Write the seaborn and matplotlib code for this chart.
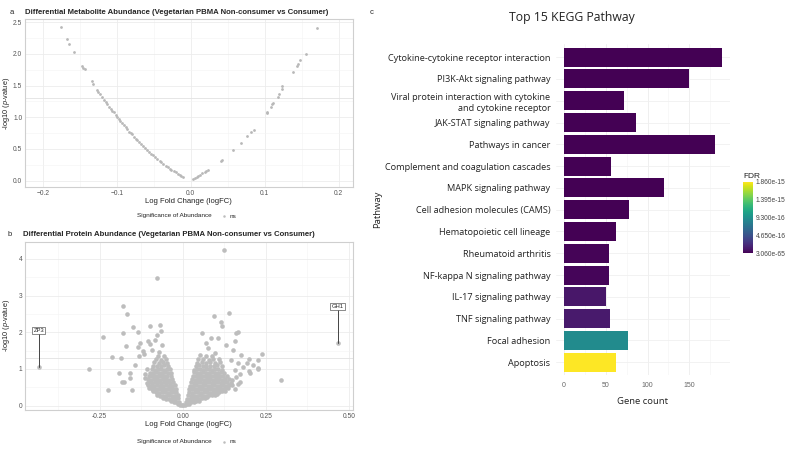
import numpy as np
import pandas as pd
import matplotlib
matplotlib.use("Agg")
import matplotlib.pyplot as plt
import matplotlib.colors as mcolors
from matplotlib.lines import Line2D
from matplotlib.ticker import MultipleLocator
import seaborn as sns

sns.set_theme(style="white")
plt.rcParams["font.family"] = ["Liberation Sans", "DejaVu Sans"]
plt.rcParams["mathtext.fontset"] = "custom"
plt.rcParams["mathtext.it"] = "Liberation Sans:italic"
plt.rcParams["mathtext.rm"] = "Liberation Sans"

# ── panel a: metabolites ─────────────────────────────────────────────────────
met_fc = [
    -0.176, -0.167, -0.164, -0.158, -0.147, -0.145, -0.143, -0.134, -0.132, -0.127, -0.125, -0.122,
    -0.120, -0.117, -0.115, -0.113, -0.111, -0.108, -0.106, -0.104, -0.101, -0.099, -0.097, -0.095,
    -0.093, -0.090, -0.088, -0.086, -0.083, -0.081, -0.079, -0.076, -0.074, -0.072, -0.070, -0.067,
    -0.065, -0.062, -0.059, -0.056, -0.053, -0.051, -0.048, -0.045, -0.042, -0.040, -0.037, -0.034,
    -0.031, -0.028, -0.026, -0.023, -0.020, -0.017, -0.015, -0.013, -0.011,
    0.003, 0.006, 0.008, 0.010, 0.013, 0.015, 0.019, 0.021, 0.024, 0.041, 0.043, 0.057, 0.068,
    0.0765, 0.082, 0.085, 0.1025, 0.103, 0.109, 0.110, 0.111, 0.118, 0.120, 0.124, 0.124, 0.138,
    0.144, 0.145, 0.148, 0.156, 0.171,
]
met_nlp = [
    2.42, 2.23, 2.16, 2.03, 1.81, 1.78, 1.76, 1.58, 1.53, 1.43, 1.40, 1.36,
    1.32, 1.27, 1.24, 1.21, 1.17, 1.135, 1.105, 1.08, 1.04, 1.01, 0.975, 0.945,
    0.915, 0.875, 0.845, 0.815, 0.775, 0.755, 0.73, 0.69, 0.66, 0.635, 0.61, 0.577,
    0.553, 0.52, 0.485, 0.45, 0.422, 0.398, 0.369, 0.34, 0.31, 0.29, 0.262, 0.238,
    0.213, 0.19, 0.175, 0.15, 0.131, 0.107, 0.092, 0.078, 0.063,
    0.02, 0.044, 0.058, 0.078, 0.097, 0.116, 0.136, 0.16, 0.175, 0.31, 0.33, 0.485, 0.597,
    0.70, 0.766, 0.805, 1.067, 1.086, 1.164, 1.203, 1.232, 1.32, 1.363, 1.445, 1.494, 1.707,
    1.814, 1.843, 1.911, 1.998, 2.406,
]

# ── panel b: proteins ────────────────────────────────────────────────────────
core_fc = [
    -0.014, -0.008, -0.003, 0.002, 0.007, 0.012, 0.018,
    -0.035, -0.027, -0.019, -0.011, 0.009, 0.017, 0.025, 0.033, 0.041, 0.048,
    -0.058, -0.049, -0.04, -0.031, -0.022, -0.014, 0.012, 0.021, 0.03, 0.039, 0.048, 0.057, 0.066, 0.074,
    -0.076, -0.067, -0.058, -0.049, -0.04, -0.031, -0.022, -0.015, 0.015, 0.024, 0.033, 0.042, 0.051,
    0.06, 0.069, 0.078, 0.087, 0.096, 0.104,
    -0.09, -0.081, -0.072, -0.063, -0.054, -0.045, -0.036, -0.027, -0.019, 0.018, 0.027, 0.036, 0.045,
    0.054, 0.063, 0.072, 0.081, 0.09, 0.099, 0.108, 0.117, 0.126,
    -0.1, -0.091, -0.082, -0.073, -0.064, -0.055, -0.046, -0.037, -0.028, -0.021, 0.02, 0.029, 0.038,
    0.047, 0.056, 0.065, 0.074, 0.083, 0.092, 0.101, 0.11, 0.119, 0.128, 0.137,
    -0.104, -0.095, -0.086, -0.077, -0.068, -0.059, -0.05, -0.041, -0.032, -0.024, 0.023, 0.032, 0.041,
    0.05, 0.059, 0.068, 0.077, 0.086, 0.095, 0.104, 0.113, 0.122, 0.131, 0.14, 0.149,
    -0.1, -0.091, -0.082, -0.073, -0.064, -0.055, -0.046, -0.037, -0.028, 0.026, 0.035, 0.044, 0.053,
    0.062, 0.071, 0.08, 0.089, 0.098, 0.107, 0.116, 0.125, 0.134, 0.145,
    -0.104, -0.095, -0.086, -0.077, -0.068, -0.059, -0.05, -0.041, -0.031, 0.028, 0.037, 0.046, 0.055,
    0.064, 0.073, 0.082, 0.091, 0.1, 0.109, 0.118, 0.127, 0.138,
    -0.1, -0.091, -0.082, -0.073, -0.064, -0.055, -0.046, -0.036, 0.031, 0.04, 0.049, 0.058, 0.067,
    0.076, 0.085, 0.094, 0.103, 0.112, 0.121, 0.132,
    -0.097, -0.088, -0.079, -0.07, -0.061, -0.052, -0.043, -0.035, 0.033, 0.042, 0.051, 0.06, 0.069,
    0.078, 0.087, 0.096, 0.105, 0.114, 0.125,
    -0.093, -0.084, -0.075, -0.066, -0.057, -0.048, -0.039, 0.035, 0.044, 0.053, 0.062, 0.071, 0.08,
    0.089, 0.098, 0.107, 0.118,
    -0.09, -0.078, -0.066, -0.057, -0.045, 0.04, 0.05, 0.062, 0.071, 0.083, 0.095, 0.104, 0.118,
    -0.085, -0.07, -0.059, -0.047, 0.043, 0.058, 0.069, 0.081, 0.097, 0.112,
    -0.08, -0.064, -0.05, 0.047, 0.062, 0.078, 0.09, 0.108,
    -0.073, -0.056, 0.052, 0.07, 0.088,
]
core_nlp = [
    0.04, 0.02, 0.01, 0.01, 0.02, 0.03, 0.05,
    0.12, 0.1, 0.09, 0.1, 0.09, 0.1, 0.11, 0.1, 0.12, 0.13,
    0.2, 0.18, 0.17, 0.18, 0.19, 0.2, 0.18, 0.17, 0.18, 0.19, 0.18, 0.2, 0.21, 0.23,
    0.3, 0.27, 0.26, 0.27, 0.28, 0.26, 0.27, 0.29, 0.28, 0.26, 0.27, 0.26, 0.28,
    0.27, 0.26, 0.28, 0.29, 0.3, 0.32,
    0.4, 0.37, 0.35, 0.36, 0.37, 0.35, 0.36, 0.37, 0.38, 0.37, 0.35, 0.36, 0.37,
    0.35, 0.36, 0.37, 0.35, 0.36, 0.37, 0.38, 0.39, 0.4,
    0.47, 0.45, 0.44, 0.46, 0.45, 0.44, 0.46, 0.45, 0.44, 0.46, 0.45, 0.44, 0.46,
    0.45, 0.44, 0.46, 0.45, 0.44, 0.46, 0.45, 0.44, 0.46, 0.47, 0.48,
    0.55, 0.54, 0.53, 0.55, 0.54, 0.53, 0.55, 0.54, 0.53, 0.55, 0.54, 0.53, 0.55,
    0.54, 0.53, 0.55, 0.54, 0.53, 0.55, 0.54, 0.53, 0.55, 0.54, 0.55, 0.57,
    0.63, 0.62, 0.64, 0.63, 0.62, 0.64, 0.63, 0.62, 0.64, 0.63, 0.62, 0.64, 0.63,
    0.62, 0.64, 0.63, 0.62, 0.64, 0.63, 0.62, 0.64, 0.63, 0.62,
    0.72, 0.71, 0.73, 0.72, 0.71, 0.73, 0.72, 0.71, 0.73, 0.72, 0.71, 0.73, 0.72,
    0.71, 0.73, 0.72, 0.71, 0.73, 0.72, 0.71, 0.73, 0.72,
    0.81, 0.8, 0.82, 0.81, 0.8, 0.82, 0.81, 0.8, 0.82, 0.81, 0.8, 0.82, 0.81,
    0.8, 0.82, 0.81, 0.8, 0.82, 0.81, 0.8,
    0.9, 0.89, 0.91, 0.9, 0.89, 0.91, 0.9, 0.89, 0.91, 0.9, 0.89, 0.91, 0.9,
    0.89, 0.91, 0.9, 0.89, 0.91, 0.9,
    0.99, 0.98, 1.0, 0.99, 0.98, 1.0, 0.99, 0.98, 1.0, 0.99, 0.98, 1.0, 0.99,
    0.98, 1.0, 0.99, 0.98,
    1.09, 1.07, 1.08, 1.1, 1.07, 1.08, 1.1, 1.07, 1.09, 1.08, 1.07, 1.1, 1.08,
    1.18, 1.16, 1.19, 1.17, 1.16, 1.18, 1.17, 1.19, 1.16, 1.18,
    1.27, 1.25, 1.28, 1.26, 1.27, 1.25, 1.28, 1.26,
    1.36, 1.34, 1.37, 1.35, 1.36,
]
spread_fc = [
    0.124, -0.076, -0.18, -0.167, 0.139, 0.094, 0.116, 0.118, -0.15, -0.097, -0.067, 0.159,
    -0.239, -0.179, -0.135, 0.058, -0.17, -0.135, -0.212, -0.185, -0.283, -0.224, -0.19, -0.177,
    -0.152, -0.159, 0.295, 0.237, 0.225, 0.225, 0.2, 0.2, 0.193, 0.203,
    -0.065, -0.127, -0.104, -0.082, -0.077, -0.097, -0.12, -0.132, -0.142, -0.157, -0.182, -0.117,
    -0.092, -0.072, -0.0625, -0.108, -0.112, -0.106, -0.114,
    0.156, 0.086, 0.106, 0.071, 0.131, 0.151, 0.176, 0.21, 0.227, 0.171, 0.161, 0.18, 0.144,
    0.165, 0.076, 0.096, 0.166, 0.156, 0.165, 0.172, 0.158, 0.148,
]
spread_nlp = [
    4.25, 3.49, 2.72, 2.49, 2.52, 2.45, 2.29, 2.16, 2.13, 2.17, 2.2, 1.97,
    1.88, 1.99, 2.02, 1.97, 1.62, 1.61, 1.32, 1.3, 1.01, 0.42, 0.9, 0.63,
    0.42, 0.9, 0.69, 1.42, 1.25, 1.0, 0.95, 1.26, 1.15, 0.88,
    2.03, 1.7, 1.75, 1.8, 1.92, 1.68, 1.49, 1.34, 1.11, 0.75, 0.65, 1.42,
    1.52, 1.47, 1.65, 0.62, 0.85, 1.0, 0.74,
    1.76, 1.84, 1.85, 1.7, 1.64, 1.52, 1.38, 1.11, 1.02, 0.65, 0.79, 1.06, 1.25,
    1.15, 1.56, 1.43, 2.0, 0.45, 0.6, 0.85, 0.98, 0.7,
]
label_genes = ["ZP3", "GH1"]
label_fc = [-0.432, 0.466]
label_nlp = [1.05, 1.7]
label_text_nlp = [2.04, 2.70]

# ── panel c: KEGG ────────────────────────────────────────────────────────────
pathways = [
    "Cytokine-cytokine receptor interaction",
    "PI3K-Akt signaling pathway",
    "Viral protein interaction with cytokine\nand cytokine receptor",
    "JAK-STAT signaling pathway",
    "Pathways in cancer",
    "Complement and coagulation cascades",
    "MAPK signaling pathway",
    "Cell adhesion molecules (CAMS)",
    "Hematopoietic cell lineage",
    "Rheumatoid arthritis",
    "NF-kappa N signaling pathway",
    "IL-17 signaling pathway",
    "TNF signaling pathway",
    "Focal adhesion",
    "Apoptosis",
]
gene_count = [189, 150, 72, 86, 181, 56, 120, 78, 62, 54, 54, 50, 55, 77, 62]
fdr = [3.06e-65, 1e-40, 1e-30, 1e-28, 1e-45, 1e-25, 1e-30, 1e-24, 1e-20,
       2e-17, 2.5e-17, 1.1e-16, 1.3e-16, 8.9e-16, 1.86e-15]
fdr_ticks = [3.06e-65, 4.65e-16, 9.3e-16, 1.395e-15, 1.86e-15]
fdr_labels = ["3.060e-65", "4.650e-16", "9.300e-16", "1.395e-15", "1.860e-15"]

fig = plt.figure(figsize=(8, 4.5), dpi=100)

GRID = "#ececec"
PT = "#bdbdbd"
SANS_C = ["Open Sans", "DejaVu Sans"]
title_a = "Differential Metabolite Abundance (Vegetarian PBMA Non-consumer vs Consumer)"
title_b = "Differential Protein Abundance (Vegetarian PBMA Non-consumer vs Consumer)"


def volcano_style(ax, xlim, ylim, xmaj, xmin, ymaj, ymin):
    ax.set_xlim(*xlim)
    ax.set_ylim(*ylim)
    ax.xaxis.set_major_locator(MultipleLocator(xmaj))
    ax.xaxis.set_minor_locator(MultipleLocator(xmin))
    ax.yaxis.set_major_locator(MultipleLocator(ymaj))
    ax.yaxis.set_minor_locator(MultipleLocator(ymin))
    ax.grid(True, which="major", color=GRID, lw=0.6)
    ax.grid(True, which="minor", color="#f4f4f4", lw=0.4)
    ax.set_axisbelow(True)
    for s in ax.spines.values():
        s.set_color("#cfcfcf")
        s.set_linewidth(0.8)
    ax.tick_params(which="major", labelsize=4.8, colors="#555555", length=1, width=0.4, pad=1)
    ax.tick_params(which="minor", length=0)
    ax.axhline(1.301, color="#e2e2e2", lw=0.6, zorder=1)
    ax.set_xlabel("Log Fold Change (logFC)", fontsize=5.5, labelpad=1, color="#222222")
    ax.set_ylabel(r"-log10 ($p$-value)", fontsize=5.3, color="#222222")
    ax.yaxis.set_label_coords(-0.041, 0.5)


# panel a
axa = fig.add_axes([0.03125, 0.5844, 0.4096, 0.3733])
sns.scatterplot(x=met_fc, y=met_nlp, ax=axa, color="#b8b8b8", s=4, linewidth=0, zorder=3)
volcano_style(axa, (-0.224, 0.219), (-0.1, 2.55), 0.1, 0.05, 0.5, 0.25)
fig.text(0.012, 0.972, "a", fontsize=5.5, va="center")
fig.text(0.031, 0.972, title_a, fontsize=5.6, fontweight="bold", va="center")

# panel b
axb = fig.add_axes([0.03125, 0.0889, 0.4096, 0.374])
prot = pd.DataFrame({"fc": core_fc + spread_fc + label_fc,
                     "nlp": core_nlp + spread_nlp + label_nlp})
sns.scatterplot(data=prot, x="fc", y="nlp", ax=axb, color=PT, s=11, linewidth=0, zorder=3)
volcano_style(axb, (-0.474, 0.511), (-0.12, 4.47), 0.25, 0.125, 1, 0.5)
axb.xaxis.set_major_formatter(matplotlib.ticker.FormatStrFormatter("%.2f"))
for g, x, y, ty in zip(label_genes, label_fc, label_nlp, label_text_nlp):
    axb.plot([x, x], [y, ty - 0.08], color="#444444", lw=0.7, zorder=4)
    axb.text(x, ty, g, fontsize=4.2, ha="center", va="center", zorder=5,
             bbox=dict(boxstyle="square,pad=0.2", fc="white", ec="#333333", lw=0.4))
fig.text(0.01, 0.478, "b", fontsize=5.5, va="center")
fig.text(0.029, 0.478, title_b, fontsize=5.6, fontweight="bold", va="center")

# legends under volcanoes
for ly in (1 - 216 / 450, 1 - 441.5 / 450):
    fig.text(137 / 800, ly, "Significance of Abundance", fontsize=4.6, va="center", color="#222222")
    fig.add_artist(Line2D([224 / 800], [ly], marker="o", ms=1.8, color=PT, mec="none",
                          transform=fig.transFigure))
    fig.text(230 / 800, ly, "ns", fontsize=4.6, va="center", color="#222222")

# panel c
norm = mcolors.Normalize(vmin=fdr_ticks[0], vmax=fdr_ticks[-1])
cmap = plt.get_cmap("viridis")
bar_colors = [cmap(norm(v)) for v in fdr]

axc = fig.add_axes([0.695, 0.166, 0.2169, 0.736])
sns.barplot(x=gene_count, y=pathways, hue=pathways, palette=bar_colors, legend=False,
            saturation=1, width=0.87, ax=axc, linewidth=0, zorder=3)
axc.set_xlim(-9.4, 198)
axc.set_ylim(14.6, -0.6)
axc.xaxis.set_major_locator(MultipleLocator(50))
axc.xaxis.set_minor_locator(MultipleLocator(25))
axc.grid(True, axis="x", which="major", color=GRID, lw=0.6)
axc.grid(True, axis="x", which="minor", color="#f4f4f4", lw=0.4)
axc.grid(True, axis="y", which="major", color="#f0f0f0", lw=0.6)
axc.set_axisbelow(True)
for s in axc.spines.values():
    s.set_visible(False)
axc.tick_params(axis="x", labelsize=5, colors="#666666", length=0, pad=4.5)
axc.tick_params(axis="y", length=0, pad=4)
for lab in axc.get_yticklabels():
    lab.set_fontfamily(SANS_C)
    lab.set_fontsize(6.6)
    lab.set_color("#222222")
    lab.set_horizontalalignment("right")
    lab.set_linespacing(1.25)
axc.set_xlabel("Gene count", fontsize=6.8, family=SANS_C, labelpad=6, color="#222222")
axc.set_ylabel("Pathway", fontsize=6.8, family=SANS_C, color="#222222")
axc.yaxis.set_label_coords(-1.0, 0.5)

fig.text(370 / 800, 1 - 12 / 450, "c", fontsize=5.5, va="center")
fig.text(571.5 / 800, 1 - 17 / 450, "Top 15 KEGG Pathway", fontsize=8.8, ha="center", va="center",
         family=SANS_C, color="#222222")

# colour bar
cax = fig.add_axes([0.9288, 0.4371, 0.0125, 0.1591])
sm = matplotlib.cm.ScalarMappable(norm=norm, cmap=cmap)
cbar = fig.colorbar(sm, cax=cax, ticks=fdr_ticks)
cbar.ax.set_yticklabels(fdr_labels)
cbar.outline.set_visible(False)
cbar.ax.tick_params(labelsize=4.8, colors="white", labelcolor="#444444", length=2,
                    width=0.5, direction="in", pad=2)
cbar.ax.set_title("FDR", fontsize=6, loc="left", pad=3, color="#222222")

fig.savefig("out.png", dpi=100, facecolor="white")
